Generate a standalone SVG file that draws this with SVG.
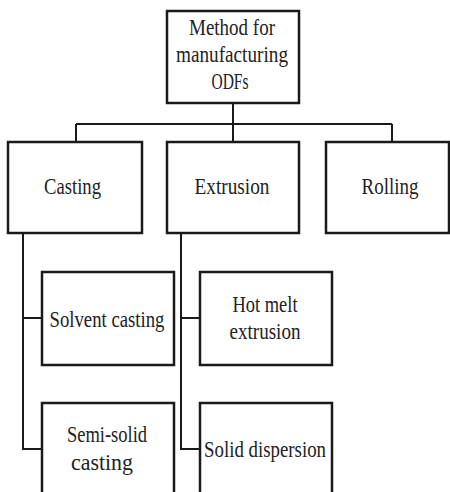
<svg xmlns="http://www.w3.org/2000/svg" width="450" height="492" viewBox="0 0 450 492">
<style>
.box{fill:#fff;stroke:#1a1a1a;stroke-width:2.5}
.ln{fill:none;stroke:#1a1a1a;stroke-width:2}
text{font-family:"Liberation Serif","DejaVu Serif","Times New Roman",serif;font-size:24px;fill:#222;text-anchor:middle}
</style>
<rect width="450" height="492" fill="#fff"/>
<g id="connectors">
<path class="ln" d="M233 103V124M76 124H392M76 124V142M233 124V142M392 124V142"/>
<path class="ln" d="M23 233V449H42M23 318H42"/>
<path class="ln" d="M181 233V449H200M181 318H200"/>
</g>
<g id="root">
<rect class="box" x="167" y="11" width="132" height="92"/>
<text x="232" y="35" textLength="86" lengthAdjust="spacingAndGlyphs">Method for</text>
<text x="232" y="62" textLength="112" lengthAdjust="spacingAndGlyphs">manufacturing</text>
<text x="230" y="89" textLength="37" lengthAdjust="spacingAndGlyphs">ODFs</text>
</g>
<g id="casting">
<rect class="box" x="8" y="142" width="134" height="91"/>
<text x="72.5" y="194" textLength="57" lengthAdjust="spacingAndGlyphs">Casting</text>
</g>
<g id="extrusion">
<rect class="box" x="167" y="142" width="132" height="91"/>
<text x="232" y="194" textLength="75" lengthAdjust="spacingAndGlyphs">Extrusion</text>
</g>
<g id="rolling">
<rect class="box" x="326" y="142" width="123" height="91"/>
<text x="390" y="194" textLength="57" lengthAdjust="spacingAndGlyphs">Rolling</text>
</g>
<g id="solvent">
<rect class="box" x="42" y="272" width="132" height="93"/>
<text x="107" y="327" textLength="115" lengthAdjust="spacingAndGlyphs">Solvent casting</text>
</g>
<g id="hotmelt">
<rect class="box" x="200" y="272" width="132" height="93"/>
<text x="265" y="312" textLength="65" lengthAdjust="spacingAndGlyphs">Hot melt</text>
<text x="265" y="339" textLength="71" lengthAdjust="spacingAndGlyphs">extrusion</text>
</g>
<g id="semisolid">
<rect class="box" x="42" y="403" width="132" height="100"/>
<text x="107" y="442" textLength="80" lengthAdjust="spacingAndGlyphs">Semi-solid</text>
<text x="102" y="470" textLength="62" lengthAdjust="spacingAndGlyphs">casting</text>
</g>
<g id="soliddisp">
<rect class="box" x="200" y="403" width="132" height="100"/>
<text x="265" y="457" textLength="122" lengthAdjust="spacingAndGlyphs">Solid dispersion</text>
</g>
</svg>
